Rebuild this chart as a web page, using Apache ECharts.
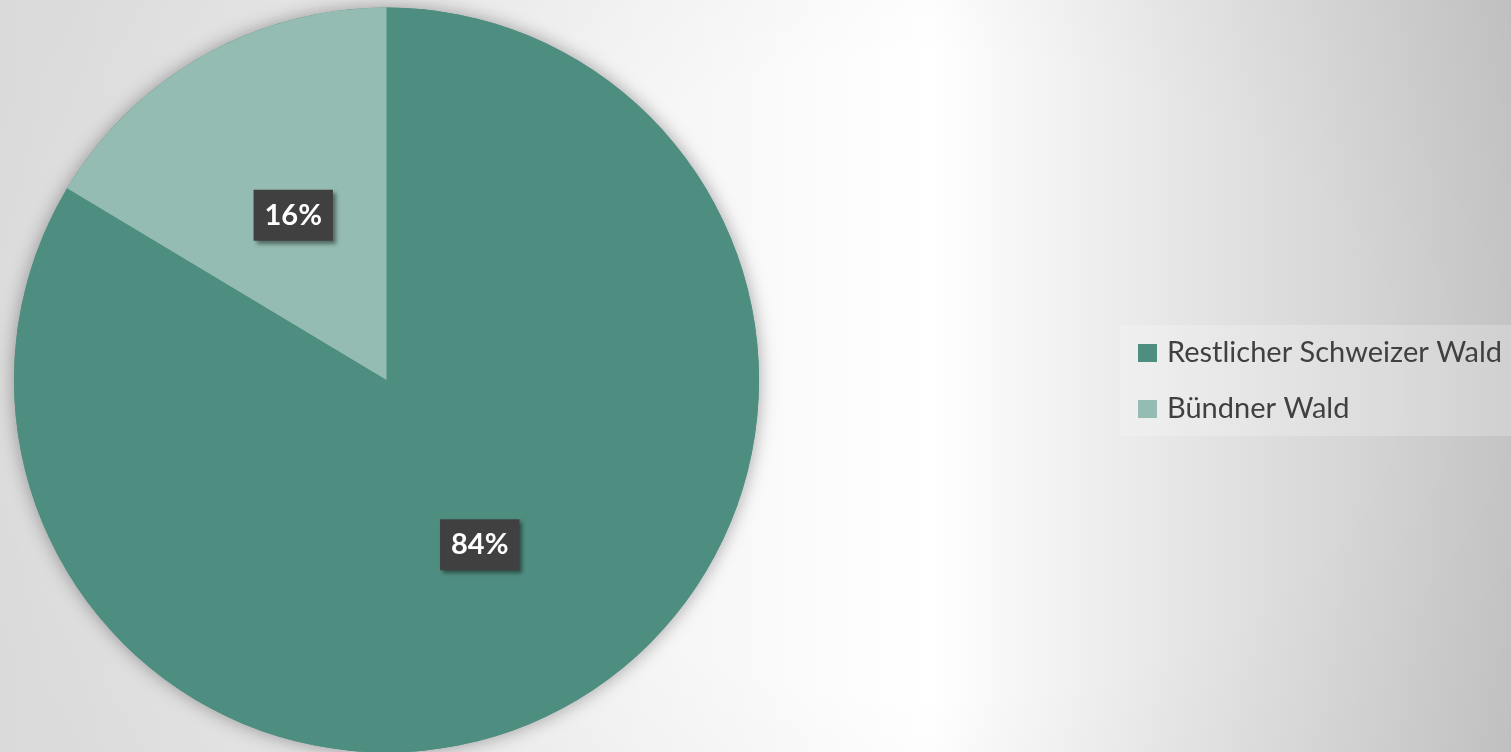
<!DOCTYPE html>
<html>
<head>
<meta charset="utf-8">
<script src="https://cdn.jsdelivr.net/npm/echarts@6/dist/echarts.min.js"></script>
<style>
html,body{margin:0;padding:0;width:1511px;height:752px;overflow:hidden;}
body{
  background:
    radial-gradient(ellipse 1000px 700px at 930px 376px, rgba(0,0,0,0) 45%, rgba(0,0,0,0.05) 100%),
    linear-gradient(to right, #e6e6e6 0px, #eeeeee 420px, #ffffff 930px, #e4e4e4 1200px, #c6c6c6 1511px);
}
#chart{width:1511px;height:752px;}
</style>
</head>
<body>
<div id="chart"></div>
<script>
var categories = ['Restlicher Schweizer Wald', 'Bündner Wald'];
var values = [83.6, 16.4];
var colors = ['#4E8E80', '#94BCB2'];

var chart = echarts.init(document.getElementById('chart'), null, {renderer: 'canvas'});
var pieData = categories.map(function (c, i) {
  return {name: c, value: values[i], itemStyle: {color: colors[i]}};
});
var total = values.reduce(function (a, b) { return a + b; }, 0);

chart.setOption({
  backgroundColor: 'transparent',
  animation: false,
  legend: {
    data: categories,
    orient: 'vertical',
    left: 1120,
    top: 325,
    padding: [13, 30, 12, 18],
    backgroundColor: 'rgba(255,255,255,0.22)',
    itemWidth: 19,
    itemHeight: 18,
    itemGap: 26,
    icon: 'rect',
    textStyle: {
      fontFamily: 'Lato',
      fontSize: 29,
      color: '#404040',
      lineHeight: 30,
      padding: [0, 0, 0, 5]
    }
  },
  series: [
    {
      type: 'pie',
      silent: true,
      center: [386.5, 380],
      radius: 372.5,
      label: {show: false},
      labelLine: {show: false},
      itemStyle: {
        color: '#4E8E80',
        shadowBlur: 18,
        shadowColor: 'rgba(0,0,0,0.35)'
      },
      data: [{name: '_shadow', value: total}],
      z: 1
    },
    {
      type: 'pie',
      center: [386.5, 380],
      radius: 372.5,
      startAngle: 90,
      clockwise: true,
      z: 2,
      emphasis: {disabled: true},
      label: {
        show: true,
        position: 'inside',
        formatter: function (p) { return Math.round(p.percent) + '%'; },
        fontFamily: 'Lato',
        fontWeight: 'bold',
        fontSize: 29,
        lineHeight: 35,
        color: '#ffffff',
        backgroundColor: '#404040',
        padding: [8, 11, 8, 11],
        shadowBlur: 4,
        shadowOffsetX: 3,
        shadowOffsetY: 3,
        shadowColor: 'rgba(0,0,0,0.45)'
      },
      labelLine: {show: false},
      data: pieData
    }
  ]
});
</script>
</body>
</html>
